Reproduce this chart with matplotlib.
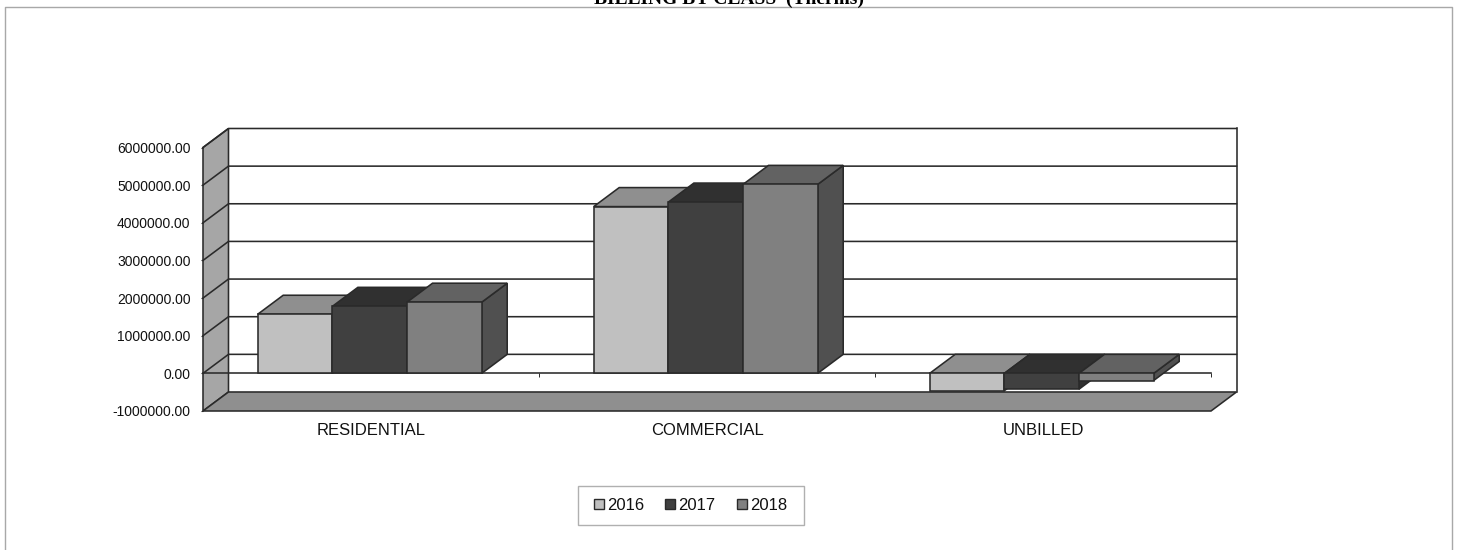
import matplotlib
matplotlib.use('Agg')
import matplotlib.pyplot as plt
from matplotlib.lines import Line2D
from matplotlib.patches import Patch, Polygon, Rectangle

plt.rcParams['font.family'] = ['Liberation Sans', 'DejaVu Sans']

# Billing per class, in therms
CATEGORIES = ['RESIDENTIAL', 'COMMERCIAL', 'UNBILLED']
YEARS = ['2016', '2017', '2018']
VALUES_2016 = [1570000, 4430000, -460000]
VALUES_2017 = [1780000, 4550000, -420000]
VALUES_2018 = [1890000, 5020000, -190000]
Y_TICKS = [-1000000, 0, 1000000, 2000000, 3000000, 4000000, 5000000, 6000000]

# front, top and side shade of each series
SHADES = [('#c0c0c0', '#8f8f8f', '#707070'),
          ('#404040', '#303030', '#303030'),
          ('#808080', '#626262', '#505050')]
WALL = '#a6a6a6'
FLOOR = '#8f8f8f'
INK = '#2a2a2a'
LINE_W = 1.15

# 3D look: how far the back plane is shifted, in data units
DEPTH_X = 25.5 / 336
DEPTH_Y = 505000
BAR_WIDTH = 1 / 4.5
BAR_SHIFT = -1.3 / 336
Y_MIN, Y_MAX = Y_TICKS[0], Y_TICKS[-1]
X_MIN, X_MAX = -0.5, 2.5


def face(ax, points, color, z=2):
    ax.add_patch(Polygon(points, closed=True, facecolor=color, edgecolor=INK,
                         linewidth=LINE_W, joinstyle='miter', zorder=z, clip_on=False))


def draw_box(ax, x0, value, shades, z):
    """One extruded bar running from the zero line to value."""
    x1 = x0 + BAR_WIDTH
    top = max(value, 0)
    bottom = min(value, 0)
    front, lid, side = shades
    face(ax, [(x1, bottom), (x1 + DEPTH_X, bottom + DEPTH_Y),
              (x1 + DEPTH_X, top + DEPTH_Y), (x1, top)], side, z)
    face(ax, [(x0, top), (x1, top), (x1 + DEPTH_X, top + DEPTH_Y),
              (x0 + DEPTH_X, top + DEPTH_Y)], lid, z)
    face(ax, [(x0, bottom), (x1, bottom), (x1, top), (x0, top)], front, z)


fig = plt.figure(figsize=(14.58, 5.5), dpi=100)
ax = fig.add_axes([203 / 1458, 1 - 411 / 550, 1008 / 1458, 263.5 / 550])
ax.set_xlim(X_MIN, X_MAX)
ax.set_ylim(Y_MIN, Y_MAX)
ax.patch.set_visible(False)

# walls and floor
back_left = X_MIN + DEPTH_X
back_right = X_MAX + DEPTH_X
face(ax, [(X_MIN, Y_MIN), (back_left, Y_MIN + DEPTH_Y),
          (back_left, Y_MAX + DEPTH_Y), (X_MIN, Y_MAX)], WALL, z=1)
face(ax, [(X_MIN, Y_MIN), (X_MAX, Y_MIN), (back_right, Y_MIN + DEPTH_Y),
          (back_left, Y_MIN + DEPTH_Y)], FLOOR, z=1)
ax.plot([back_right, back_right], [Y_MIN + DEPTH_Y, Y_MAX + DEPTH_Y],
        color=INK, lw=LINE_W, zorder=1, clip_on=False)

# grid runs across the left wall and then along the back wall
for tick in Y_TICKS[1:]:
    ax.plot([X_MIN, back_left, back_right], [tick, tick + DEPTH_Y, tick + DEPTH_Y],
            color=INK, lw=LINE_W, zorder=1.2, clip_on=False)

series = [VALUES_2016, VALUES_2017, VALUES_2018]
for c in range(len(CATEGORIES)):
    for s, values in enumerate(series):
        x0 = c + (s - 1.5) * BAR_WIDTH + BAR_SHIFT
        draw_box(ax, x0, values[c], SHADES[s], z=3 + s * 0.1)

# axes furniture
for name in ['top', 'right', 'left']:
    ax.spines[name].set_visible(False)
ax.spines['bottom'].set_position(('data', 0))
ax.spines['bottom'].set_color(INK)
ax.spines['bottom'].set_linewidth(LINE_W)
ax.spines['bottom'].set_zorder(2.5)

ax.set_yticks(Y_TICKS)
ax.set_yticklabels([f'{t:.2f}' for t in Y_TICKS])
ax.tick_params(axis='y', length=1.5, width=0.8, color=INK, pad=7.5,
               labelsize=10, labelcolor='#111111')

ax.set_xticks([0.5, 1.5, 2.5])
ax.set_xticklabels([])
ax.set_xticks([0, 1, 2], minor=True)
ax.set_xticklabels(CATEGORIES, minor=True)
ax.tick_params(axis='x', which='major', length=3, width=0.7, color=INK)
ax.tick_params(axis='x', which='minor', length=0, pad=36, labelsize=12,
               labelcolor='#111111')

# legend box is drawn separately, its side margins are wider than the top and bottom
fig.add_artist(Rectangle((577.5 / 1458, 1 - 525 / 550), 226 / 1458, 39 / 550,
                         transform=fig.transFigure, facecolor='white',
                         edgecolor='#b0b0b0', linewidth=1.0))
handles = [Patch(facecolor=SHADES[i][0], edgecolor=INK, linewidth=1.0, label=YEARS[i])
           for i in range(len(YEARS))]
leg = fig.legend(handles=handles, loc='center', ncol=3,
                 bbox_to_anchor=(690.5 / 1458, 1 - 505.5 / 550),
                 fontsize=12, frameon=False,
                 handlelength=0.6, handleheight=0.6, handletextpad=0.2,
                 columnspacing=1.25, labelcolor='#111111')

# chart frame, open at the bottom edge of the figure
frame_x = [4.5 / 1458, 4.5 / 1458, 1451.5 / 1458, 1451.5 / 1458]
frame_y = [0, 1 - 6.5 / 550, 1 - 6.5 / 550, 0]
fig.add_artist(Line2D(frame_x, frame_y, transform=fig.transFigure,
                      color='#a8a8a8', lw=1.0))

fig.text(729 / 1458, 1 - 4 / 550, 'BILLING BY CLASS  (Therms)', ha='center',
         va='baseline', family='Liberation Serif', weight='bold', fontsize=14,
         color='black')

fig.savefig('out.png', dpi=100)
